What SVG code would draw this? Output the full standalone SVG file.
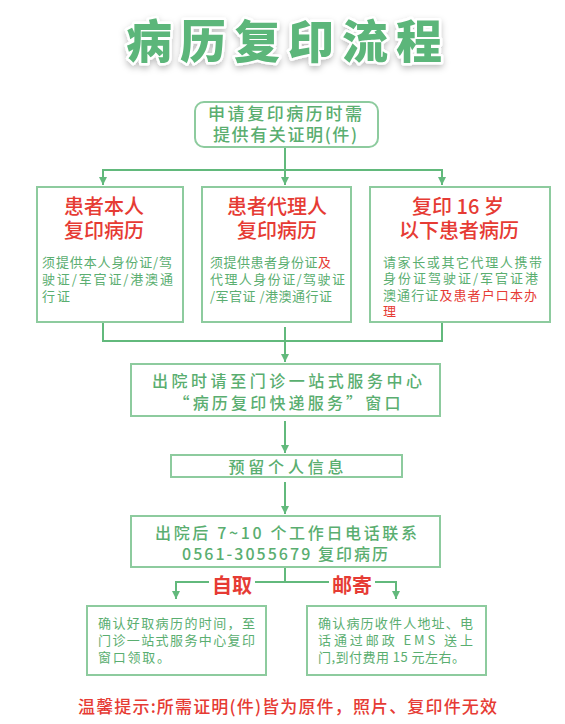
<svg xmlns="http://www.w3.org/2000/svg" width="565" height="724" viewBox="0 0 565 724">
<defs>
<style>
text{font-family:"Noto Sans CJK SC","Noto Sans",sans-serif;dominant-baseline:central}
.box{fill:#fff;stroke:#8dcb9e;stroke-width:2}
.g{fill:#5aae70}
.r{fill:#e63b34}
.hd{font-size:20px;font-weight:500;text-anchor:middle}
.bd{font-size:13px}
.mid{font-size:16px;font-weight:500;text-anchor:middle}
.con{fill:none;stroke:#62b97c;stroke-width:2}
</style>
<marker id="ah" viewBox="0 0 10 10" refX="10" refY="5" markerWidth="8" markerHeight="8" markerUnits="userSpaceOnUse" orient="auto">
<path d="M0,0 L10,5 L0,10 z" fill="#62b97c"/>
</marker>
<filter id="sh" x="-10%" y="-30%" width="120%" height="170%">
<feDropShadow dx="0" dy="3" stdDeviation="3" flood-color="#000" flood-opacity="0.25"/>
</filter>
</defs>
<rect width="565" height="724" fill="#fff"/>

<g id="title">
<text x="288" y="38" text-anchor="middle" font-size="46" font-weight="900" letter-spacing="8" fill="#5cb67a" stroke="#fff" stroke-width="5" paint-order="stroke" stroke-linejoin="round" filter="url(#sh)">病历复印流程</text>
</g>

<g id="connectors">
<path class="con" d="M285,147 V185" marker-end="url(#ah)"/>
<path class="con" d="M285,170 H103 V185" marker-end="url(#ah)"/>
<path class="con" d="M285,170 H442 V185" marker-end="url(#ah)"/>
<path class="con" d="M103,322 V341 H442 V322"/>
<path class="con" d="M285,327 V362" marker-end="url(#ah)"/>
<path class="con" d="M285,421 V453" marker-end="url(#ah)"/>
<path class="con" d="M285,482 V514" marker-end="url(#ah)"/>
<path class="con" d="M285,567 V582"/>
<path class="con" d="M285,582 H176 V599" marker-end="url(#ah)"/>
<path class="con" d="M285,582 H396 V599" marker-end="url(#ah)"/>
<rect x="209" y="572" width="46" height="22" fill="#fff"/>
<rect x="329" y="572" width="46" height="22" fill="#fff"/>
<text class="r" x="232" y="584" text-anchor="middle" font-size="20" font-weight="700">自取</text>
<text class="r" x="352" y="584" text-anchor="middle" font-size="20" font-weight="700">邮寄</text>
</g>

<g id="start">
<rect class="box" x="195" y="102" width="183" height="45" rx="9"/>
<text class="g" x="285" y="112" font-size="17" font-weight="500" text-anchor="middle" textLength="154" lengthAdjust="spacing">申请复印病历时需</text>
<text class="g" x="285" y="133" font-size="17" font-weight="500" text-anchor="middle" textLength="144" lengthAdjust="spacing">提供有关证明(件)</text>
</g>

<g id="self">
<rect class="box" x="37" y="187" width="146" height="135"/>
<text class="r hd" x="104" y="205">患者本人</text>
<text class="r hd" x="104" y="229">复印病历</text>
<text class="g bd" x="42" y="261" textLength="130" lengthAdjust="spacing">须提供本人身份证/驾</text>
<text class="g bd" x="42" y="278" textLength="131" lengthAdjust="spacing">驶证/军官证/港澳通</text>
<text class="g bd" x="42" y="295" textLength="28" lengthAdjust="spacing">行证</text>
</g>

<g id="agent">
<rect class="box" x="202" y="187" width="149" height="135"/>
<text class="r hd" x="277" y="205">患者代理人</text>
<text class="r hd" x="277" y="229">复印病历</text>
<text class="bd" x="210" y="261" textLength="121" lengthAdjust="spacing"><tspan class="g">须提供患者身份证</tspan><tspan class="r">及</tspan></text>
<text class="g bd" x="210" y="278" textLength="135" lengthAdjust="spacing">代理人身份证/驾驶证</text>
<text class="g bd" x="210" y="295" textLength="122" lengthAdjust="spacing">/军官证 /港澳通行证</text>
</g>

<g id="minor">
<rect class="box" x="370" y="187" width="180" height="135"/>
<text class="r hd" x="458" y="205">复印 16 岁</text>
<text class="r hd" x="459" y="229">以下患者病历</text>
<text class="g bd" x="383" y="261" textLength="159" lengthAdjust="spacing">请家长或其它代理人携带</text>
<text class="g bd" x="383" y="277.5" textLength="155" lengthAdjust="spacing">身份证驾驶证/军官证港</text>
<text class="bd" x="383" y="294" textLength="154" lengthAdjust="spacing"><tspan class="g">澳通行证</tspan><tspan class="r">及患者户口本办</tspan></text>
<text class="r bd" x="383" y="310.5">理</text>
</g>

<g id="window">
<rect class="box" x="131" y="364" width="309" height="52"/>
<text class="g mid" x="287" y="380" textLength="270" lengthAdjust="spacing">出院时请至门诊一站式服务中心</text>
<text class="g mid" x="287" y="402" textLength="227" lengthAdjust="spacing">“病历复印快递服务”窗口</text>
</g>

<g id="info">
<rect class="box" x="171" y="455" width="231" height="22"/>
<text class="g mid" x="286" y="466" textLength="115" lengthAdjust="spacing">预留个人信息</text>
</g>

<g id="call">
<rect class="box" x="131" y="516" width="309" height="51"/>
<text class="g mid" x="286" y="532" textLength="262" lengthAdjust="spacing">出院后 7~10 个工作日电话联系</text>
<text class="g mid" x="285" y="553" textLength="206" lengthAdjust="spacing">0561-3055679 复印病历</text>
</g>

<g id="pickup">
<rect class="box" x="87" y="606" width="179" height="69"/>
<text class="g bd" x="98" y="622" textLength="157" lengthAdjust="spacing">确认好取病历的时间，至</text>
<text class="g bd" x="98" y="639" textLength="157" lengthAdjust="spacing">门诊一站式服务中心复印</text>
<text class="g bd" x="98" y="656" textLength="72" lengthAdjust="spacing">窗口领取。</text>
</g>

<g id="mail">
<rect class="box" x="307" y="606" width="179" height="69"/>
<text class="g bd" x="318" y="622" textLength="155" lengthAdjust="spacing">确认病历收件人地址、电</text>
<text class="g bd" x="318" y="639" textLength="155" lengthAdjust="spacing">话通过邮政 EMS 送上</text>
<text class="g bd" x="318" y="656" textLength="147" lengthAdjust="spacing">门,到付费用 15 元左右。</text>
</g>

<g id="note">
<text class="r" x="78" y="705" font-size="17" font-weight="500" textLength="419" lengthAdjust="spacing">温馨提示:所需证明(件)皆为原件，照片、复印件无效</text>
</g>
</svg>
